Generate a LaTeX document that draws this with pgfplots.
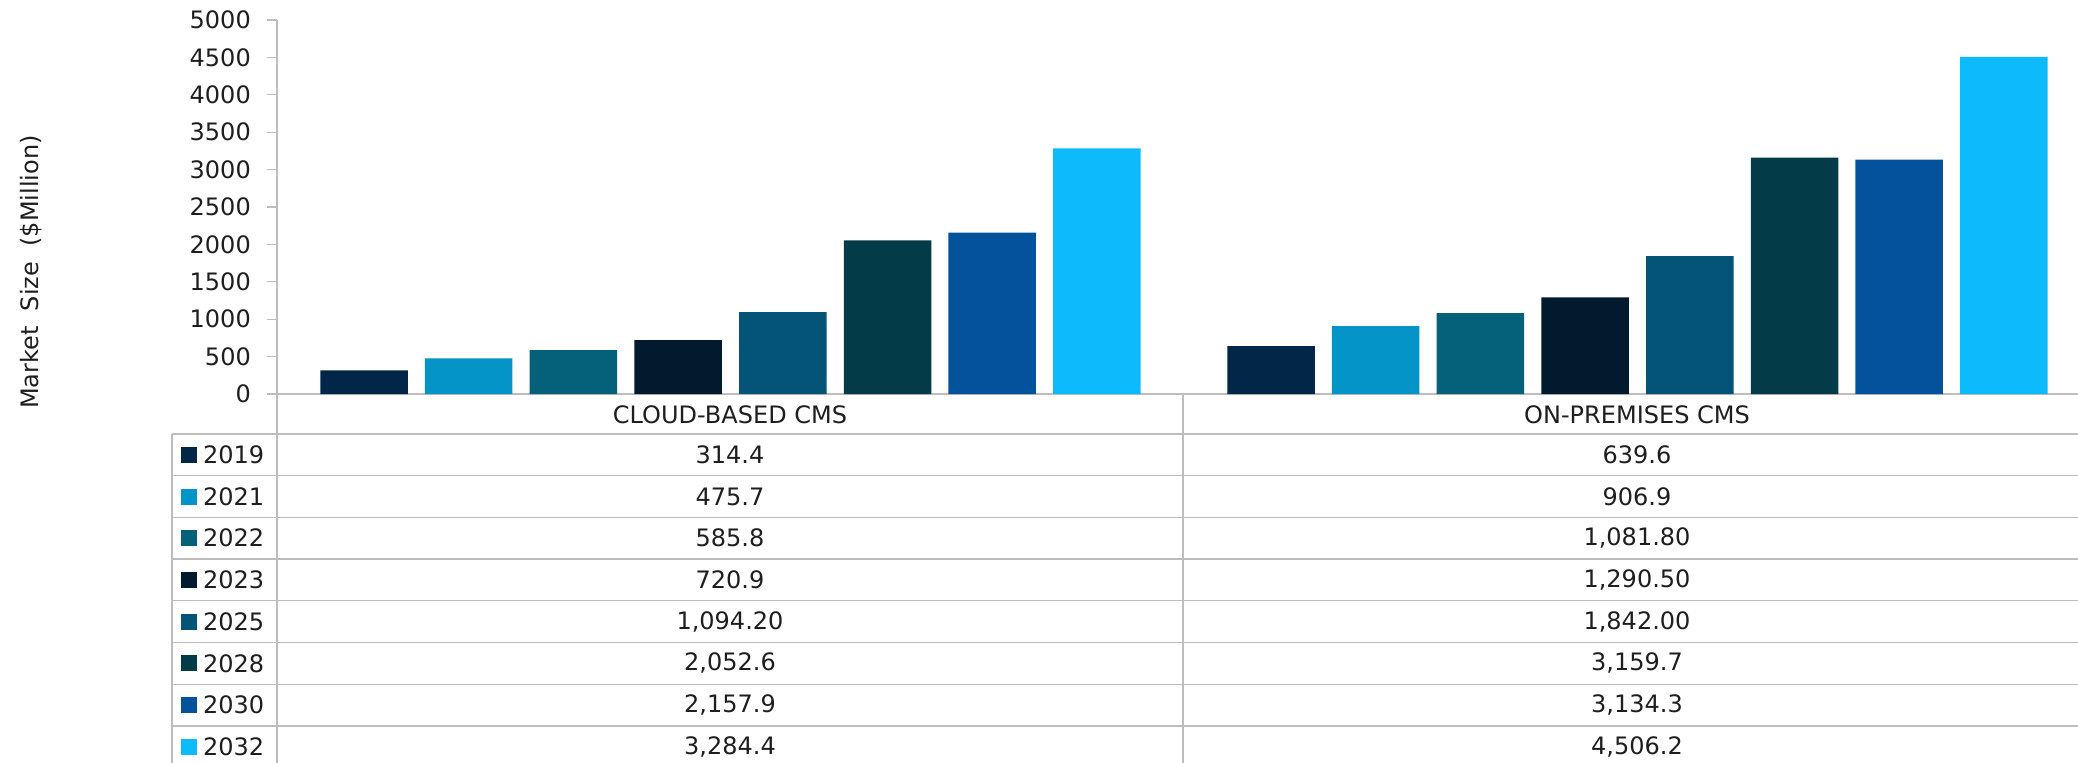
\documentclass[border=0pt]{standalone}
\usepackage{pgfplots}
\pgfplotsset{compat=1.18}
\usepackage{fontspec}
\setmainfont{DejaVu Sans}
\definecolor{c19}{HTML}{022648}
\definecolor{c21}{HTML}{0594C8}
\definecolor{c22}{HTML}{05607A}
\definecolor{c23}{HTML}{021A2E}
\definecolor{c25}{HTML}{045478}
\definecolor{c28}{HTML}{043B48}
\definecolor{c30}{HTML}{04529C}
\definecolor{c32}{HTML}{0DBBFD}
\definecolor{gridc}{HTML}{BDBDBD}
\definecolor{txt}{HTML}{1E1E1E}
\begin{document}
\fontsize{24}{29}\selectfont
\begin{tikzpicture}
\begin{axis}[
  name=ax,
  scale only axis,
  width=1801pt, height=374pt,
  xmin=-0.5, xmax=1.4857,
  ymin=0, ymax=5000,
  axis lines*=left,
  axis line style={gridc, line width=1.3pt},
  xtick=\empty,
  ytick={0,500,...,5000},
  tick align=outside,
  major tick length=10pt,
  every tick/.style={gridc, line width=1.3pt},
  y tick label style={text=txt, font=\fontsize{24}{29}\selectfont, xshift=-8pt},
  /pgf/number format/assume math mode=true,
  /pgf/number format/1000 sep={},
  ybar=17.2pt,
  bar width=87.5pt,
  clip=false,
]
\addplot[fill=c19, draw=none] coordinates {(0,314.4) (1,639.6)};
\addplot[fill=c21, draw=none] coordinates {(0,475.7) (1,906.9)};
\addplot[fill=c22, draw=none] coordinates {(0,585.8) (1,1081.8)};
\addplot[fill=c23, draw=none] coordinates {(0,720.9) (1,1290.5)};
\addplot[fill=c25, draw=none] coordinates {(0,1094.2) (1,1842.0)};
\addplot[fill=c28, draw=none] coordinates {(0,2052.6) (1,3159.7)};
\addplot[fill=c30, draw=none] coordinates {(0,2157.9) (1,3134.3)};
\addplot[fill=c32, draw=none] coordinates {(0,3284.4) (1,4506.2)};
\end{axis}
\begin{scope}[shift={(ax.south west)}, x=1pt, y=1pt]
  % y label
  \node[rotate=90, text=txt, font=\fontsize{24}{29}\selectfont] at (-246,122) {Market\ \ Size\ \ (\$Million)};
  % table lines
  \draw[gridc, line width=1.3pt] (0,0) -- (0,-380);
  \draw[gridc, line width=1.3pt] (906,0) -- (906,-380);
  \draw[gridc, line width=1.3pt] (-105,-40) -- (-105,-380);
  \foreach \k in {0,...,7} {
    \draw[gridc, line width=1.3pt] (-105,{-40-41.7*\k}) -- (1801,{-40-41.7*\k});
  }
  % header
  \node[text=txt] at (453,-21) {CLOUD-BASED CMS};
  \node[text=txt] at (1360,-21) {ON-PREMISES CMS};
  % rows
  \foreach \k/\c/\yr/\a/\b in {
    0/c19/2019/314.4/639.6,
    1/c21/2021/475.7/906.9,
    2/c22/2022/585.8/{1,081.80},
    3/c23/2023/720.9/{1,290.50},
    4/c25/2025/{1,094.20}/{1,842.00},
    5/c28/2028/{2,052.6}/{3,159.7},
    6/c30/2030/{2,157.9}/{3,134.3},
    7/c32/2032/{3,284.4}/{4,506.2}} {
    \pgfmathsetmacro{\yy}{-40-41.7*\k-20.85}
    \fill[\c] (-96,\yy-8) rectangle (-80,\yy+8);
    \node[text=txt, anchor=west, inner sep=0pt] at (-74,\yy) {\yr};
    \node[text=txt] at (453,\yy) {\a};
    \node[text=txt] at (1360,\yy) {\b};
  }
  \pgfresetboundingbox
  \useasboundingbox (-277,-369) rectangle (1801,394);
\end{scope}
\end{tikzpicture}
\end{document}
